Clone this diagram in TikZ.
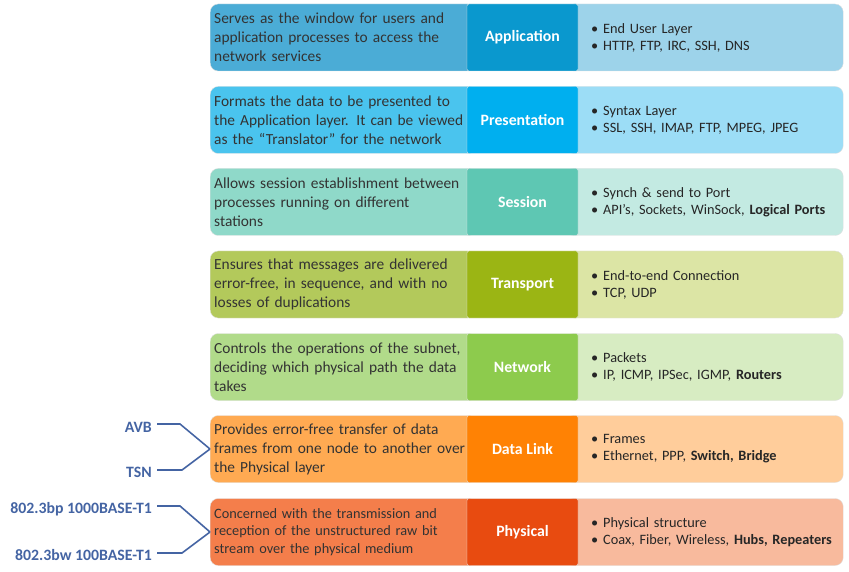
\documentclass[tikz,border=0pt]{standalone}
\usepackage{fontspec}
\setmainfont{Carlito}
\usepackage{tikz}
\usetikzlibrary{positioning}

\definecolor{appL}{HTML}{4BACD6}
\definecolor{appM}{HTML}{0A98CE}
\definecolor{appR}{HTML}{9DD3EA}
\definecolor{preL}{HTML}{4AC4EE}
\definecolor{preM}{HTML}{00AFEF}
\definecolor{preR}{HTML}{9CDDF6}
\definecolor{sesL}{HTML}{8FD9C9}
\definecolor{sesM}{HTML}{5EC7B3}
\definecolor{sesR}{HTML}{C3EAE2}
\definecolor{traL}{HTML}{B3C95B}
\definecolor{traM}{HTML}{9BB514}
\definecolor{traR}{HTML}{DCE5A5}
\definecolor{netL}{HTML}{B1DB8A}
\definecolor{netM}{HTML}{8DCB4D}
\definecolor{netR}{HTML}{D7ECC2}
\definecolor{dlkL}{HTML}{FFAA52}
\definecolor{dlkM}{HTML}{FF8204}
\definecolor{dlkR}{HTML}{FFCD9B}
\definecolor{phyL}{HTML}{F47E4B}
\definecolor{phyM}{HTML}{E84B10}
\definecolor{phyR}{HTML}{F8BA9D}
\definecolor{stdblue}{HTML}{4464A3}

\newcommand{\itm}{\hspace*{18pt}\makebox[12pt][l]{\textbullet}}

\tikzstyle{desc} = [draw=black!12, rounded corners=8pt, anchor=west, minimum height=67pt, text width=258pt, inner xsep=4pt, align=left, text=black!80, font=\fontsize{15.4}{19}\selectfont]
\tikzstyle{layer} = [draw=black!10, rounded corners=2pt, minimum width=111pt, minimum height=67pt, text=white, font=\bfseries\fontsize{15.8}{18}\selectfont]
\tikzstyle{info} = [draw=black!12, rounded corners=8pt, anchor=west, minimum height=67pt, text width=263pt, inner xsep=7pt, align=left, text=black!85, font=\fontsize{14.3}{17}\selectfont]
\tikzstyle{std} = [anchor=east, inner xsep=5pt, text=stdblue, font=\bfseries\fontsize{15.8}{18}\selectfont]
\tikzstyle{link} = [draw=stdblue, line width=1.6pt]

\begin{document}
\begin{tikzpicture}[x=1pt,y=-1pt]
\useasboundingbox (0,0) rectangle (849,572);

% application
\node[info, fill=appR] (info1) at (566,37.5) {\itm End User Layer\\ \itm HTTP, FTP, IRC, SSH, DNS};
\node[desc, fill=appL] (desc1) at (210,37.5) {Serves as the window for users and\\ application processes to access the\\ network services};
\node[layer, fill=appM] (lay1) at (522.5,37.5) {Application};

% presentation
\node[info, fill=preR] (info2) at (566,120) {\itm Syntax Layer\\ \itm SSL, SSH, IMAP, FTP, MPEG, JPEG};
\node[desc, fill=preL] (desc2) at (210,120) {Formats the data to be presented to\\ the Application layer. It can be viewed\\ as the ``Translator'' for the network};
\node[layer, fill=preM] (lay2) at (522.5,120) {Presentation};

% session
\node[info, fill=sesR] (info3) at (566,202) {\itm Synch \& send to Port\\ \itm API's, Sockets, WinSock, \textbf{Logical Ports}};
\node[desc, fill=sesL] (desc3) at (210,202) {Allows session establishment between\\ processes running on different\\ stations};
\node[layer, fill=sesM] (lay3) at (522.5,202) {Session};

% transport
\node[info, fill=traR] (info4) at (566,284.5) {\itm End-to-end Connection\\ \itm TCP, UDP};
\node[desc, fill=traL] (desc4) at (210,284.5) {Ensures that messages are delivered\\ error-free, in sequence, and with no\\ losses of duplications};
\node[layer, fill=traM] (lay4) at (522.5,284.5) {Transport};

% network
\node[info, fill=netR] (info5) at (566,367) {\itm Packets\\ \itm IP, ICMP, IPSec, IGMP, \textbf{Routers}};
\node[desc, fill=netL] (desc5) at (210,367) {Controls the operations of the subnet,\\ deciding which physical path the data\\ takes};
\node[layer, fill=netM] (lay5) at (522.5,367) {Network};

% data link
\node[info, fill=dlkR] (info6) at (566,449) {\itm Frames\\ \itm Ethernet, PPP, \textbf{Switch, Bridge}};
\node[desc, fill=dlkL] (desc6) at (210,449) {Provides error-free transfer of data\\ frames from one node to another over\\ the Physical layer};
\node[layer, fill=dlkM] (lay6) at (522.5,449) {Data Link};

% physical
\node[info, fill=phyR] (info7) at (566,532) {\itm Physical structure\\ \itm \mbox{Coax, Fiber, Wireless, \textbf{Hubs, Repeaters}}};
\node[desc, fill=phyL, font=\fontsize{14.3}{17.5}\selectfont] (desc7) at (210,532) {Concerned with the transmission and\\ reception of the unstructured raw bit\\ stream over the physical medium};
\node[layer, fill=phyM] (lay7) at (522.5,532) {Physical};

% standards
\node[std] (avb) at (157,427) {AVB};
\node[std] (tsn) at (157,472) {TSN};
\node[std] (bp) at (157,509) {802.3bp 1000BASE-T1};
\node[std] (bw) at (157,555) {802.3bw 100BASE-T1};

\draw[link] ([yshift=3pt]avb.east) -- ++(23,0) -- (desc6.west);
\draw[link] ([yshift=2pt]tsn.east) -- ++(25,0) -- (desc6.west);
\draw[link] ([yshift=3pt]bp.east) -- ++(23,0) -- (desc7.west);
\draw[link] ([yshift=2pt]bw.east) -- ++(25,0) -- (desc7.west);
\end{tikzpicture}
\end{document}
